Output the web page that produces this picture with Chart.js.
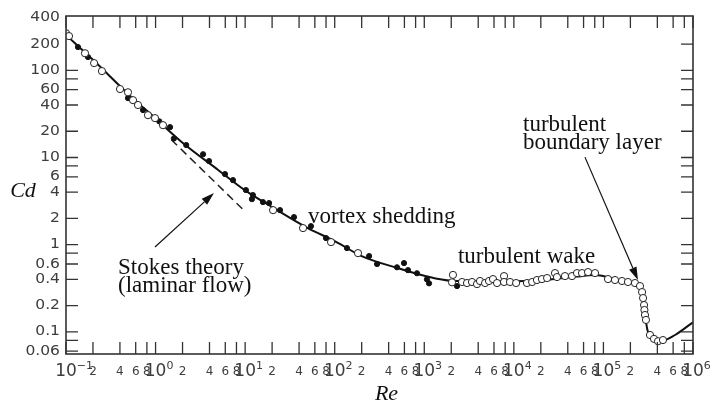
<!DOCTYPE html>
<html>
<head>
<meta charset="utf-8">
<script src="https://cdn.jsdelivr.net/npm/chart.js@4.4.1/dist/chart.umd.min.js"></script>
<style>
  body { margin: 0; background: #fff; }
</style>
</head>
<body>
<canvas id="dragChart" width="718" height="407"></canvas>
<script>
// smooth drag curve for a sphere
const curveRe = [0.1, 0.2, 0.5, 1, 2, 5, 10, 20, 50, 100, 200, 500, 1000, 2000, 5000, 1e4, 2e4, 5e4, 8e4, 1.5e5, 2.2e5, 2.7e5, 3.1e5, 3.6e5, 4.3e5, 6.3e5, 1e6];
const curveCd = [255, 132, 53, 28, 14.8, 7.2, 4.2, 2.7, 1.55, 1.1, 0.74, 0.54, 0.44, 0.385, 0.38, 0.38, 0.39, 0.43, 0.45, 0.39, 0.35, 0.27, 0.105, 0.085, 0.078, 0.092, 0.129];

// Stokes law Cd = 24/Re, only drawn over its short range
const stokesRe = [1.5, 10];
const stokesCd = [16, 2.4];

// measurements, filled dots
const filledRe = [0.136, 0.176, 0.492, 0.724, 1.1, 1.45, 1.6, 2.2, 3.39, 3.95, 5.96, 7.32, 10.2, 11.9, 12.2, 15.8, 18.5, 24.5, 35.1, 54.3, 80, 137, 242, 297, 496, 594, 658, 829, 1070, 1130, 2320];
const filledCd = [185, 142, 48, 35, 26, 22.3, 16.5, 13.9, 10.9, 9.1, 6.45, 5.5, 4.23, 3.33, 3.71, 3.08, 3.0, 2.49, 2.07, 1.63, 1.19, 0.914, 0.74, 0.60, 0.55, 0.615, 0.51, 0.47, 0.40, 0.36, 0.335];

// measurements, open circles
const openRe = [0.1, 0.108, 0.163, 0.206, 0.252, 0.401, 0.492, 0.56, 0.637, 0.823, 0.986, 1.21, 20.5, 44.3, 91, 182, 2040, 2090, 2640, 3000, 3410, 3880, 4190, 4770, 5280, 5850, 6490, 7770, 7770, 9060, 10600, 14000, 16000, 18100, 20600, 23500, 28800, 30300, 37200, 44600, 50700, 57700, 67300, 80600, 112500, 134600, 161200, 188000, 225000, 256000, 270000, 277000, 284000, 287000, 291000, 298500, 331000, 367000, 407000, 462000];
const openCd = [267, 247, 157, 121, 98, 61, 56, 45.5, 40, 30.6, 28.3, 23.5, 2.49, 1.55, 1.07, 0.80, 0.37, 0.45, 0.373, 0.363, 0.373, 0.353, 0.383, 0.363, 0.383, 0.403, 0.363, 0.436, 0.373, 0.373, 0.363, 0.363, 0.373, 0.393, 0.403, 0.414, 0.472, 0.425, 0.436, 0.436, 0.472, 0.472, 0.485, 0.472, 0.403, 0.393, 0.383, 0.373, 0.363, 0.335, 0.286, 0.244, 0.203, 0.178, 0.156, 0.137, 0.092, 0.083, 0.078, 0.0805];

// axis ticks
const xDecades = [-1, 0, 1, 2, 3, 4, 5, 6];
const xSubTicks = [2, 4, 6, 8];
const yLabels = [400, 200, 100, 60, 40, 20, 10, 6, 4, 2, 1, 0.6, 0.4, 0.2, 0.1, 0.06];
const yTickMarks = [100, 80, 60, 40, 20, 10, 8, 6, 4, 2, 1, 0.8, 0.6, 0.4, 0.2, 0.1, 0.08, 0.06];
const yRightExtra = [200];

// text notes, anchored at (Re, Cd)
const notes = [
  { text: 'Stokes theory', re: 0.381, cd: 0.46 },
  { text: '(laminar flow)', re: 0.381, cd: 0.286 },
  { text: 'vortex shedding', re: 50.3, cd: 1.77 },
  { text: 'turbulent wake', re: 2377, cd: 0.615 },
  { text: 'turbulent', re: 12650, cd: 20.1 },
  { text: 'boundary layer', re: 12650, cd: 12.5 }
];
const arrows = [
  { from: [0.985, 0.94], to: [4.49, 3.91] },
  { from: [62200, 10.1], to: [243000, 0.393] }
];

const pts = (xs, ys) => xs.map((x, i) => ({ x: x, y: ys[i] }));

const axisColor = '#333';
const textColor = '#3d3d3d';

function arrow(ctx, x1, y1, x2, y2) {
  const ang = Math.atan2(y2 - y1, x2 - x1);
  const len = 13, half = 4;
  const bx = x2 - len * Math.cos(ang), by = y2 - len * Math.sin(ang);
  ctx.beginPath();
  ctx.moveTo(x1, y1);
  ctx.lineTo(bx, by);
  ctx.stroke();
  ctx.beginPath();
  ctx.moveTo(x2, y2);
  ctx.lineTo(bx - half * Math.sin(ang), by + half * Math.cos(ang));
  ctx.lineTo(bx + half * Math.sin(ang), by - half * Math.cos(ang));
  ctx.closePath();
  ctx.fill();
}

const framePlugin = {
  id: 'frame',
  afterDraw(chart) {
    const ctx = chart.ctx, a = chart.chartArea;
    const xs = chart.scales.x, ys = chart.scales.y;
    ctx.save();

    // box and inward ticks
    ctx.strokeStyle = axisColor;
    ctx.lineWidth = 1.6;
    ctx.strokeRect(a.left, a.top, a.right - a.left, a.bottom - a.top);
    ctx.lineWidth = 1.3;
    ctx.beginPath();
    xDecades.forEach(k => {
      const base = Math.pow(10, k);
      const vals = k < 6 ? [base].concat(xSubTicks.map(m => m * base)) : [base];
      vals.forEach(v => {
        const x = xs.getPixelForValue(v);
        ctx.moveTo(x, a.bottom); ctx.lineTo(x, a.bottom - 12);
        ctx.moveTo(x, a.top); ctx.lineTo(x, a.top + 12);
      });
    });
    yTickMarks.forEach(v => {
      const y = ys.getPixelForValue(v);
      ctx.moveTo(a.left, y); ctx.lineTo(a.left + 12, y);
    });
    yRightExtra.concat(yTickMarks).forEach(v => {
      const y = ys.getPixelForValue(v);
      ctx.moveTo(a.right, y); ctx.lineTo(a.right - 12, y);
    });
    ctx.stroke();

    // y tick labels
    ctx.fillStyle = textColor;
    ctx.font = '13.5px "DejaVu Sans"';
    ctx.textAlign = 'right';
    ctx.textBaseline = 'middle';
    yLabels.forEach(v => {
      ctx.save();
      ctx.translate(a.left - 6, ys.getPixelForValue(v));
      ctx.scale(1.15, 1);
      ctx.fillText(String(v), 0, 0);
      ctx.restore();
    });

    // x tick labels: 10^k with small multipliers between
    ctx.textBaseline = 'alphabetic';
    xDecades.forEach(k => {
      const x = xs.getPixelForValue(Math.pow(10, k));
      ctx.font = '17px "DejaVu Sans"';
      ctx.textAlign = 'center';
      ctx.fillText('10', x, a.bottom + 22);
      const w = ctx.measureText('10').width;
      ctx.font = '11px "DejaVu Sans"';
      ctx.textAlign = 'left';
      ctx.fillText(k < 0 ? '\u2212' + (-k) : String(k), x + w / 2, a.bottom + 15);
      ctx.textAlign = 'center';
      if (k < 6) {
        ctx.font = '12px "DejaVu Sans"';
        xSubTicks.forEach(m => {
          ctx.fillText(String(m), xs.getPixelForValue(m * Math.pow(10, k)), a.bottom + 21);
        });
      }
    });

    // axis titles
    ctx.fillStyle = '#111';
    ctx.font = 'italic 22px "Liberation Serif"';
    ctx.textAlign = 'center';
    ctx.fillText('Cd', 23, 197);
    ctx.fillText('Re', (a.left + a.right) / 2 + 7, 400);

    // notes and arrows
    ctx.font = '23px "Liberation Serif"';
    ctx.textAlign = 'left';
    notes.forEach(n => {
      ctx.fillText(n.text, xs.getPixelForValue(n.re), ys.getPixelForValue(n.cd));
    });
    ctx.strokeStyle = '#111';
    ctx.fillStyle = '#111';
    ctx.lineWidth = 1.2;
    arrows.forEach(ar => {
      arrow(ctx,
        xs.getPixelForValue(ar.from[0]), ys.getPixelForValue(ar.from[1]),
        xs.getPixelForValue(ar.to[0]), ys.getPixelForValue(ar.to[1]));
    });
    ctx.restore();
  }
};

const ctx = document.getElementById('dragChart').getContext('2d');
new Chart(ctx, {
  type: 'scatter',
  data: {
    datasets: [
      {
        label: 'open',
        data: pts(openRe, openCd),
        pointRadius: 3.6,
        pointBackgroundColor: '#fff',
        pointBorderColor: '#222',
        pointBorderWidth: 1,
        order: 1
      },
      {
        label: 'filled',
        data: pts(filledRe, filledCd),
        pointRadius: 2.6,
        pointBackgroundColor: '#111',
        pointBorderColor: '#111',
        order: 2
      },
      {
        label: 'curve',
        data: pts(curveRe, curveCd),
        showLine: true,
        pointRadius: 0,
        borderColor: '#111',
        borderWidth: 2,
        cubicInterpolationMode: 'monotone',
        order: 3
      },
      {
        label: 'Stokes',
        data: pts(stokesRe, stokesCd),
        showLine: true,
        pointRadius: 0,
        borderColor: '#222',
        borderWidth: 1.5,
        borderDash: [8, 5],
        order: 4
      }
    ]
  },
  options: {
    responsive: false,
    animation: false,
    layout: { padding: { top: 16, right: 25, left: 0, bottom: 0 } },
    plugins: { legend: { display: false }, tooltip: { enabled: false } },
    scales: {
      x: {
        type: 'logarithmic', min: 0.1, max: 1e6,
        ticks: { display: false }, grid: { display: false }, border: { display: false },
        afterFit: s => { s.height = 53; }
      },
      y: {
        type: 'logarithmic', min: 0.0557, max: 420,
        ticks: { display: false }, grid: { display: false }, border: { display: false },
        afterFit: s => { s.width = 66; }
      }
    }
  },
  plugins: [framePlugin]
});
</script>
</body>
</html>
